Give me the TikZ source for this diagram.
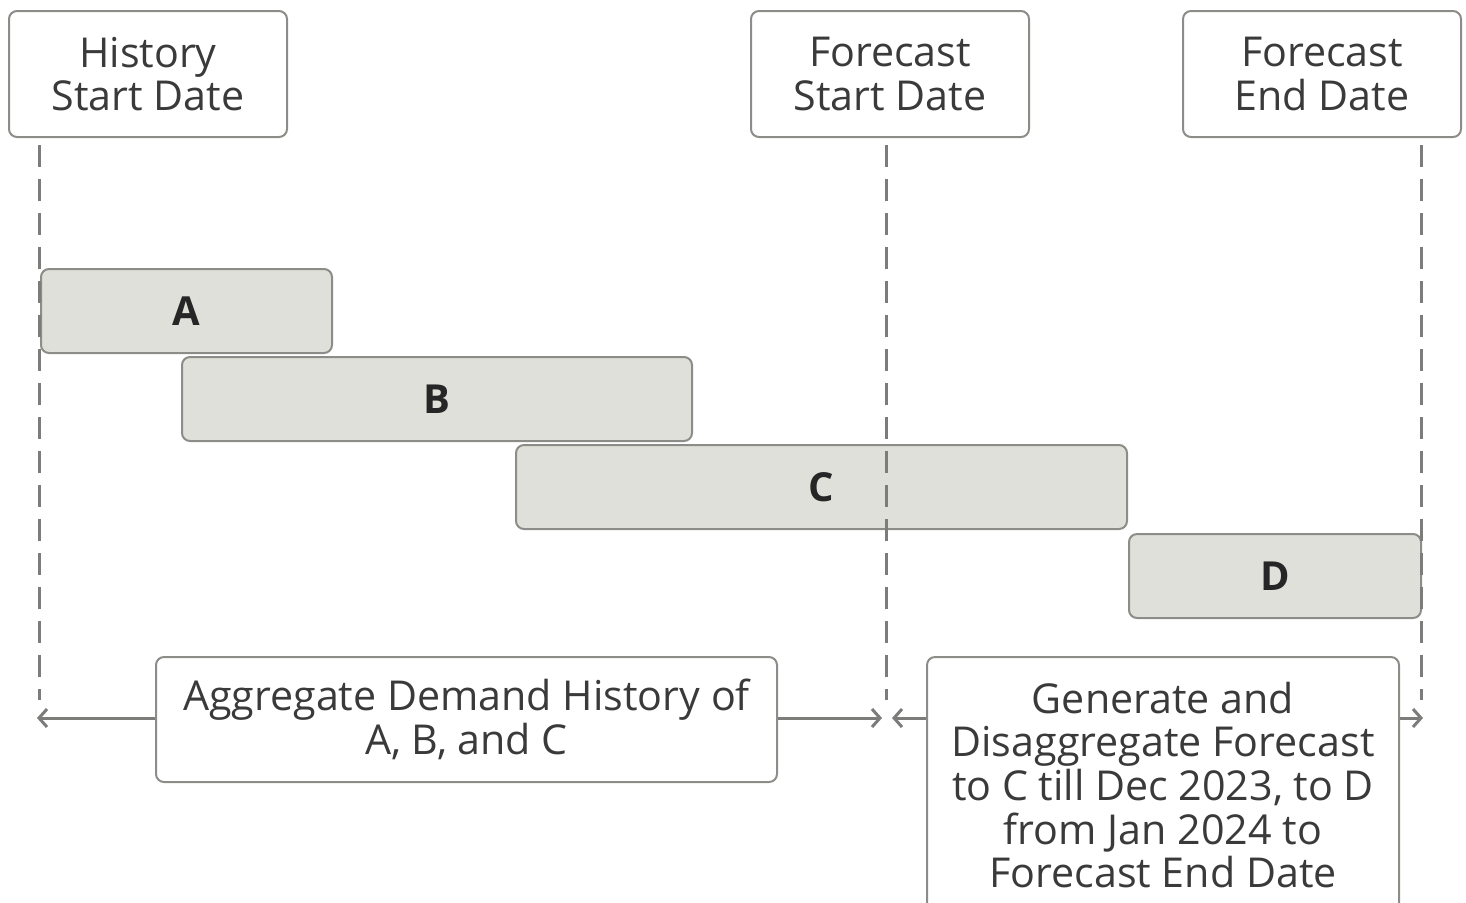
\documentclass[tikz,border=0pt]{standalone}
\usepackage{fontspec}
\setmainfont{Open Sans}
\usetikzlibrary{arrows.meta}
\definecolor{edge}{HTML}{8C8C88}
\definecolor{barfill}{HTML}{E0E0DB}
\definecolor{ink}{HTML}{3A3A3A}
\definecolor{wire}{HTML}{7C7C7A}
\begin{document}
\begin{tikzpicture}[x=0.5pt,y=-0.5pt,
    datebox/.style={draw=edge, line width=1pt, rounded corners=4pt, anchor=north west,
      minimum width=139pt, minimum height=63pt, inner sep=0pt, align=center,
      text=ink, font=\fontsize{20.6}{21.8}\selectfont},
    bar/.style={draw=edge, fill=barfill, line width=1pt, rounded corners=4pt, anchor=north west,
      minimum height=42pt, inner sep=0pt, text=black!85, font=\fontsize{20}{22}\selectfont\bfseries},
    guide/.style={wire, line width=1.5pt, dash pattern=on 11pt off 6pt},
    span/.style={wire, line width=1.5pt, -{Straight Barb[length=4pt,width=9pt]}}]
  \useasboundingbox (0,0) rectangle (1466,902);
  % dates on top
  \node[datebox] (hsd) at (8,10) {History\\Start Date};
  \node[datebox] (fsd) at (750,10) {Forecast\\Start Date};
  \node[datebox] (fed) at (1182,10) {Forecast\\End Date};
  % the four bars
  \node[bar, minimum width=145.5pt] (barA) at (40,268) {A};
  \node[bar, minimum width=255pt] (barB) at (181,356) {B};
  \node[bar, minimum width=305.5pt] (barC) at (515,444) {C};
  \node[bar, minimum width=146pt] (barD) at (1128,533) {D};
  % guides
  \coordinate (h0) at (39,145);  \coordinate (h1) at (39,700);
  \coordinate (f0) at (886,145); \coordinate (f1) at (886,700);
  \coordinate (e0) at (1421,145); \coordinate (e1) at (1421,700);
  \draw[guide] (h0) -- (h1);
  \draw[guide] (f0) -- (f1);
  \draw[guide] (e0) -- (e1);
  % notes
  \node[datebox, minimum width=310.5pt, minimum height=62.5pt] (hist) at (155,656)
    {Aggregate Demand History of\\A, B, and C};
  \node[datebox, minimum width=236pt, minimum height=128pt] (fcst) at (926,656)
    {Generate and\\Disaggregate Forecast\\to C till Dec 2023, to D\\from Jan 2024 to\\Forecast End Date};
  \coordinate (hl) at (37,718);  \coordinate (hr) at (882,718);
  \coordinate (fl) at (892,718); \coordinate (fr) at (1423,718);
  \draw[span] (hist.west |- hl) -- (hl);
  \draw[span] (hist.east |- hr) -- (hr);
  \draw[span] (fcst.west |- fl) -- (fl);
  \draw[span] (fcst.east |- fr) -- (fr);
\end{tikzpicture}
\end{document}
